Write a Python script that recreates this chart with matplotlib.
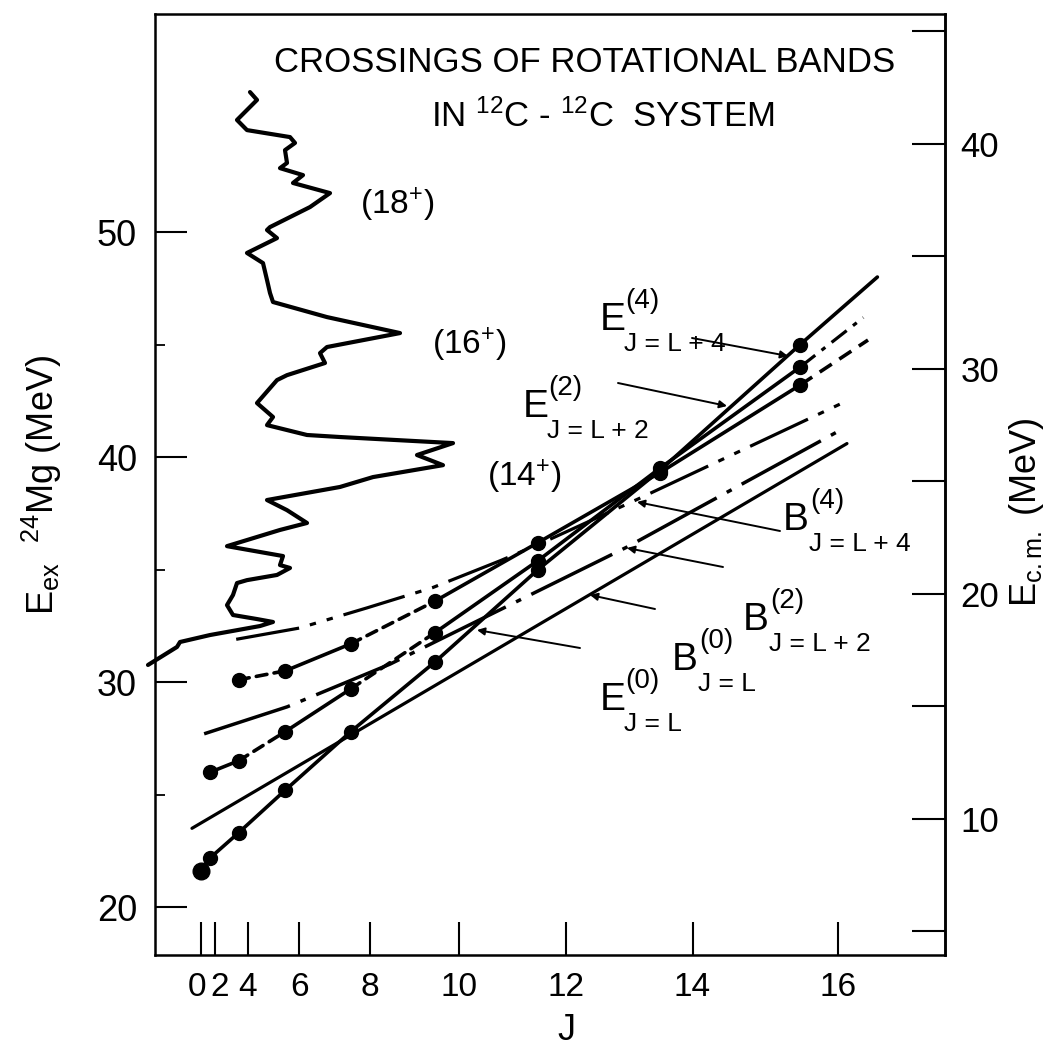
import matplotlib
matplotlib.use("Agg")
import matplotlib.pyplot as plt
from matplotlib.ticker import FixedLocator
from matplotlib.transforms import ScaledTranslation

plt.rcParams['font.family'] = ['Liberation Sans', 'DejaVu Sans']
plt.rcParams['mathtext.fontset'] = 'custom'
plt.rcParams['mathtext.rm'] = 'Liberation Sans'
plt.rcParams['mathtext.it'] = 'Liberation Sans'
plt.rcParams['mathtext.bf'] = 'Liberation Sans'

W, H = 1051, 1050
THRESH = 13.93  # 12C+12C threshold in 24Mg (MeV)

# axis ticks
j_ticks = [0, 2, 4, 6, 8, 10, 12, 14, 16]
eex_ticks = [20, 30, 40, 50]
eex_minor = [25, 35, 45]
ecm_ticks = [10, 20, 30, 40]
ecm_minor = [5, 15, 25, 35, 45]

# bands with points (J, Eex in MeV)
e0_J = [0, 2, 4, 6, 8, 10, 12, 14, 16]
e0_E = [21.6, 22.2, 23.3, 25.2, 27.8, 30.9, 35.0, 39.4, 45.0]
e2_J = [2, 4, 6, 8, 10, 12, 14, 16]
e2_E = [26.0, 26.5, 27.8, 29.7, 32.2, 35.4, 39.5, 44.0]
e4_J = [4, 6, 8, 10, 12, 14, 16]
e4_E = [30.1, 30.5, 31.7, 33.6, 36.2, 39.3, 43.2]

# continuations past J=16 (x in J^2)
e0_tail_x = [256, 289]
e0_tail_E = [45.0, 48.0]
e2_tail_x = [256, 283]
e2_tail_E = [44.0, 46.2]
e4_tail_x = [256, 285]
e4_tail_E = [43.2, 45.2]

# barrier lines (x in J^2)
b0_x = [-3.9, 276]
b0_E = [23.5, 40.6]
b2_x = [1.3, 36.8, 80.8, 182, 275]
b2_E = [27.7, 28.9, 30.8, 36.0, 41.3]
b4_x = [15, 42, 71, 99, 128, 146, 186, 274]
b4_E = [31.9, 32.4, 33.3, 34.2, 35.4, 36.2, 38.1, 42.4]

# excitation function (arbitrary yield vs Eex)
spec_yield = [10.0, 10.7, 8.7, 9.7, 14.0, 14.5, 13.5, 13.7, 13.0, 15.3, 14.3, 18.0,
              16.0, 12.0, 11.7, 12.7, 9.7, 11.3, 11.7, 12.0, 12.3, 17.7, 25.0, 17.7,
              17.0, 17.5, 13.7, 12.7, 10.7, 12.3, 11.7, 15.7, 19.0, 30.3, 26.7, 29.3,
              22.3, 19.0, 11.7, 13.7, 15.7, 13.0, 7.7, 13.3, 13.0, 14.0, 12.7, 9.7,
              8.7, 8.3, 7.7, 8.3, 10.7, 12.3, 11.0, 6.0, 3.0, 2.7, -0.2]
spec_E = [56.22, 55.87, 54.98, 54.53, 54.22, 53.96, 53.64, 53.07, 52.84, 52.53, 52.18, 51.73,
          51.11, 50.22, 50.09, 49.73, 49.07, 48.62, 47.87, 47.29, 46.89, 46.22, 45.51, 44.89,
          44.62, 44.18, 43.64, 43.42, 42.40, 41.78, 41.42, 40.98, 40.89, 40.62, 40.09, 39.64,
          39.11, 38.67, 38.09, 37.64, 37.07, 36.76, 36.04, 35.60, 35.20, 35.07, 34.76, 34.53,
          34.40, 33.87, 33.42, 32.98, 32.80, 32.67, 32.49, 32.09, 31.78, 31.56, 30.76]

DASH = (0, (3, 2))

fig = plt.figure(figsize=(W / 100, H / 100), dpi=100)
ax = fig.add_axes([155 / W, 1 - 955 / H, 790 / W, 941 / H])
ax.set_xlim(-19.7, 317.9)
ax.set_ylim(17.87, 59.69)


def px(x, y):
    return x / W, 1 - y / H


def chain(J, E, styles, ms=10):
    x = [j ** 2 for j in J]
    for i, ls in enumerate(styles):
        ax.plot(x[i:i + 2], E[i:i + 2], color='k', lw=2.6, ls=ls,
                solid_capstyle='round', dash_capstyle='round')
    ax.plot(x, E, 'o', color='k', ms=ms, zorder=5)


chain(e0_J, e0_E, ['-'] * 8)
ax.plot([e0_J[0] ** 2], [e0_E[0]], 'o', color='k', ms=12, zorder=5)
chain(e2_J, e2_E, ['-', DASH, '-', DASH, '-', '-', '-'])
chain(e4_J, e4_E, [DASH, '-', DASH, '-', '-', '-'])

ax.plot(e0_tail_x, e0_tail_E, color='k', lw=2.6, solid_capstyle='round')
ax.plot(e2_tail_x, e2_tail_E, color='k', lw=2.3, ls=(0, (6, 2.5, 1.5, 2.5)))
ax.plot(e4_tail_x, e4_tail_E, color='k', lw=2.6, ls=(0, (4, 2.5)))

ax.plot(b0_x, b0_E, color='k', lw=2.3, solid_capstyle='round')
ax.plot(b2_x, b2_E, color='k', lw=2.5, ls=(0, (26, 3.3, 1.6, 3.3)))
ax.plot(b4_x, b4_E, color='k', lw=2.3, ls=(0, (20, 3.5, 2, 3.5, 2, 3.5)))

# axes, ticks
for s in ax.spines.values():
    s.set_linewidth(1.8)
ax.set_xticks([j * (j + 1) for j in j_ticks])
ax.set_xticklabels([str(j) for j in j_ticks])
ax.tick_params(axis='x', direction='in', length=24, width=1.5, labelsize=24, pad=12)
ax.set_yticks(eex_ticks)
ax.yaxis.set_minor_locator(FixedLocator(eex_minor))
ax.tick_params(axis='y', which='major', direction='in', length=23, width=1.5,
               labelsize=26, pad=13)
ax.tick_params(axis='y', which='minor', direction='in', length=7, width=1.3)

# pull the crowded "0" and "2" labels apart a little
labs = ax.get_xticklabels()
labs[0].set_transform(labs[0].get_transform() + ScaledTranslation(-3 / 72, 0, fig.dpi_scale_trans))
labs[1].set_transform(labs[1].get_transform() + ScaledTranslation(3 / 72, 0, fig.dpi_scale_trans))

sec = ax.secondary_yaxis('right', functions=(lambda e: e - THRESH, lambda e: e + THRESH))
sec.set_yticks(ecm_ticks)
sec.yaxis.set_minor_locator(FixedLocator(ecm_minor))
sec.tick_params(which='both', direction='in', length=24, width=1.5, labelsize=25, pad=11)
sec.spines['right'].set_linewidth(1.8)

# excitation function overlay
ax_s = fig.add_axes(ax.get_position())
ax_s.set_xlim(0.5, 79.5)
ax_s.set_ylim(ax.get_ylim())
ax_s.axis('off')
ax_s.plot(spec_yield, spec_E, color='k', lw=3.0, clip_on=False,
          solid_joinstyle='round', solid_capstyle='round')

# texts
fig.text(*px(585, 63), 'CROSSINGS OF ROTATIONAL BANDS', fontsize=25, ha='center', va='center')
fig.text(*px(603, 117), r'IN $^{12}$C - $^{12}$C  SYSTEM', fontsize=25, ha='center', va='center')
fig.text(*px(566, 1030), 'J', fontsize=26, ha='center', va='center')
fig.text(*px(42, 485), r'$\mathregular{E_{ex}\ \ ^{24}Mg\ (MeV)}$', fontsize=26,
         rotation=90, ha='center', va='center')
fig.text(*px(1027, 512), r'$\mathregular{E_{c.m.}\ (MeV)}$', fontsize=26,
         rotation=90, ha='center', va='center')

fig.text(*px(360, 205), r'$\mathregular{(18^{+})}$', fontsize=24, ha='left', va='center')
fig.text(*px(432, 345), r'$\mathregular{(16^{+})}$', fontsize=24, ha='left', va='center')
fig.text(*px(487, 477), r'$\mathregular{(14^{+})}$', fontsize=24, ha='left', va='center')


def band_label(x, y, letter, sup, sub, dx=25):
    fig.text(*px(x, y), letter, fontsize=28, ha='left', va='baseline')
    fig.text(*px(x + dx, y - 22), sup, fontsize=20, ha='left', va='baseline')
    fig.text(*px(x + dx - 1, y + 21), sub, fontsize=19, ha='left', va='baseline')


band_label(600, 330, 'E', '(4)', 'J = L + 4')
band_label(523, 417, 'E', '(2)', 'J = L + 2')
band_label(783, 530, 'B', '(4)', 'J = L + 4', dx=27)
band_label(743, 630, 'B', '(2)', 'J = L + 2', dx=27)
band_label(672, 670, 'B', '(0)', 'J = L', dx=27)
band_label(600, 710, 'E', '(0)', 'J = L')

pointers = [((692, 338), (788, 356)), ((618, 383), (727, 406)),
            ((780, 531), (637, 502)), ((723, 567), (627, 548)),
            ((655, 609), (590, 595)), ((580, 648), (477, 630))]
for start, end in pointers:
    ax.annotate('', xy=px(*end), xytext=px(*start), xycoords='figure fraction',
                textcoords='figure fraction',
                arrowprops=dict(arrowstyle='-|>', lw=1.4, color='k', mutation_scale=11,
                                shrinkA=0, shrinkB=0))

fig.savefig('out.png', dpi=100, facecolor='white')
